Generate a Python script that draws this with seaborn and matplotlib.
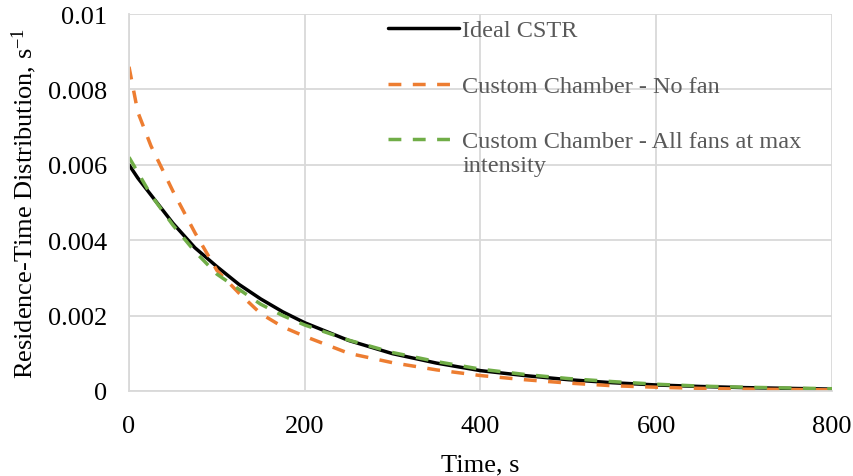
import numpy as np
import pandas as pd
import matplotlib
matplotlib.use("Agg")
import matplotlib.pyplot as plt
import seaborn as sns
from matplotlib.legend_handler import HandlerLine2D

# Data
time_s = [0, 10, 25, 50, 75, 100, 125, 150, 175, 200, 250, 300, 350, 400,
          450, 500, 550, 600, 650, 700, 750, 800]
ideal_cstr = [0.0060, 0.00565, 0.0052, 0.00445, 0.0038, 0.0033, 0.00283, 0.00244,
              0.0021, 0.00181, 0.00134, 0.00099, 0.00074, 0.00054, 0.00041,
              0.00030, 0.00022, 0.00016, 0.00012, 0.00009, 0.00007, 0.00005]
no_fan = [0.0086, 0.0074, 0.0065, 0.0053, 0.0042, 0.0032, 0.0026, 0.00205,
          0.0017, 0.00145, 0.00100, 0.00075, 0.00056, 0.00041, 0.00030,
          0.00021, 0.00014, 0.00010, 0.00007, 0.00005, 0.00004, 0.00003]
all_fans = [0.0062, 0.0058, 0.0052, 0.0044, 0.0037, 0.0031, 0.0027, 0.0023,
            0.0020, 0.00175, 0.00135, 0.00102, 0.00078, 0.00058, 0.00044,
            0.00033, 0.00025, 0.00018, 0.00013, 0.00010, 0.00008, 0.00006]
series_labels = ["Ideal CSTR", "Custom Chamber - No fan",
                 "Custom Chamber - All fans at max\nintensity"]
x_ticks = [0, 200, 400, 600, 800]
y_ticks = [0, 0.002, 0.004, 0.006, 0.008, 0.01]
y_tick_labels = ["0", "0.002", "0.004", "0.006", "0.008", "0.01"]

sns.set_theme(style="whitegrid")
plt.rcParams["font.family"] = ["Liberation Serif", "DejaVu Serif"]
plt.rcParams["mathtext.fontset"] = "custom"
plt.rcParams["mathtext.rm"] = "Liberation Serif"
plt.rcParams["mathtext.it"] = "Liberation Serif:italic"

fig = plt.figure(figsize=(8.54, 4.77), dpi=100)
ax = fig.add_axes([129 / 854, 1 - 392 / 477, (832 - 129) / 854, (392 - 15) / 477])

df = pd.DataFrame({"t": time_s, "ideal": ideal_cstr, "nofan": no_fan, "allfans": all_fans})

lw = 2.5
sns.lineplot(data=df, x="t", y="ideal", ax=ax, color="black", linewidth=lw,
             label=series_labels[0])
sns.lineplot(data=df, x="t", y="nofan", ax=ax, color="#ED7D31", linewidth=lw,
             label=series_labels[1])
sns.lineplot(data=df, x="t", y="allfans", ax=ax, color="#70AD47", linewidth=lw,
             label=series_labels[2])
lines = ax.get_lines()
for ln in lines[1:]:
    ln.set_linestyle((0, (3.7, 3.3)))

ax.set_xlim(0, 800)
ax.set_ylim(0, 0.01)
ax.set_xticks(x_ticks)
ax.set_xticklabels([str(v) for v in x_ticks])
ax.set_yticks(y_ticks)
ax.set_yticklabels(y_tick_labels)
ax.tick_params(axis="both", labelsize=19, colors="black", length=0, pad=16)
ax.tick_params(axis="x", pad=17)

ax.grid(True, color="#D9D9D9", linewidth=1.3)
ax.set_axisbelow(True)
ax.set_facecolor("white")
for s in ["top", "right"]:
    ax.spines[s].set_visible(False)
for s in ["left", "bottom"]:
    ax.spines[s].set_color("#D9D9D9")
    ax.spines[s].set_linewidth(1.3)

ax.set_xlabel("Time, s", fontsize=19, color="black", labelpad=12)
ax.set_ylabel(r"Residence-Time Distribution, s$^{\mathrm{-1}}$", fontsize=19,
              color="black", labelpad=6)


class FirstLineHandler(HandlerLine2D):
    def __init__(self, shift_lines=0.0, **kw):
        super().__init__(**kw)
        self.shift_lines = shift_lines

    def create_artists(self, legend, orig_handle, xdescent, ydescent, width,
                       height, fontsize, trans):
        shift = self.shift_lines * fontsize * 1.15
        return super().create_artists(legend, orig_handle, xdescent,
                                      ydescent - shift, width, height,
                                      fontsize, trans)


handles, labels = ax.get_legend_handles_labels()
leg = ax.legend(handles, labels, loc="upper left", bbox_to_anchor=(0.355, 1.012),
                frameon=False, fontsize=17.5, handlelength=2.9, handletextpad=0.15,
                labelspacing=1.39, borderaxespad=0,
                handler_map={handles[2]: FirstLineHandler(shift_lines=1.0)})
for t in leg.get_texts():
    t.set_color("#595959")

fig.savefig("out.png", dpi=100)
